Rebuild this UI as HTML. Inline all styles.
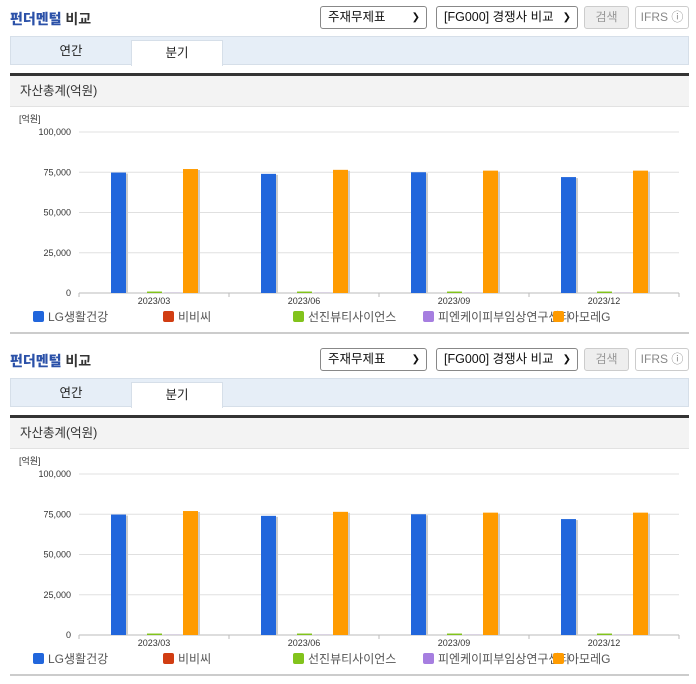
<!DOCTYPE html>
<html><head><meta charset="utf-8">
<style>
*{box-sizing:border-box;margin:0;padding:0}
body{width:696px;height:684px;background:#fff;font-family:"Liberation Sans","Noto Sans CJK KR",sans-serif;position:relative;overflow:hidden}
.blk{position:absolute;left:0;width:696px;height:342px}
.title{position:absolute;left:10px;top:9px;font-size:14px;font-weight:bold;color:#333}
.title b{color:#2b51a8}
.sel{position:absolute;top:6px;height:23px;border:1px solid #888;border-radius:3px;background:#fff;font-size:12.5px;line-height:21px;padding-left:7px;color:#111}
.sel i{position:absolute;right:6px;top:0;font-style:normal;font-size:10px}
.btn{position:absolute;top:6px;height:23px;border:1px solid #ccc;border-radius:3px;font-size:12px;line-height:21px;text-align:center;color:#999}
.tabs{position:absolute;left:10px;top:36px;width:679px;height:29px;background:#e6eef7;border:1px solid #d6dfe9}
.tab{position:absolute;top:0;height:28px;font-size:12.5px;line-height:28px;text-align:center;color:#222}
.tab.on{background:#fff;top:3px;height:26px;line-height:24px;border:1px solid #d6dfe9;border-bottom:none}
.bar3{position:absolute;left:10px;top:73px;width:679px;height:3px;background:#333}
.hd{position:absolute;left:10px;top:76px;width:679px;height:31px;background:#f3f3f3;border-bottom:1px solid #e2e2e2;font-size:12.5px;line-height:31px;padding-left:10px;color:#333}
.foot{position:absolute;left:10px;top:332px;width:679px;height:2px;background:#ccc}
svg{position:absolute;left:0;top:107px}
</style></head><body>
<script>
const categories=["2023/03","2023/06","2023/09","2023/12"];
const seriesNames=["LG생활건강","비비씨","선진뷰티사이언스","피엔케이피부임상연구센타","아모레G"];
const seriesColors=["#2166dc","#d13d12","#82c31c","#a67ee0","#ff9b00"];
const lgValues=[74800,74000,75000,72000];
const bbcValues=[0,0,0,0];
const sjValues=[900,900,900,900];
const pnkValues=[100,100,100,100];
const amoreValues=[77000,76500,76000,76000];
const yTicks=[0,25000,50000,75000,100000];
const yTickLabels=["0","25,000","50,000","75,000","100,000"];
const allSeries=[lgValues,bbcValues,sjValues,pnkValues,amoreValues];

const NS="http://www.w3.org/2000/svg";
function yS(v){return 186-v/100000*161;}
function xC(i){return 79+150*i+75;}
function mk(tag,attrs,parent){const e=document.createElementNS(NS,tag);for(const k in attrs)e.setAttribute(k,attrs[k]);parent.appendChild(e);return e;}

function buildBlock(top){
  const b=document.createElement('div');b.className='blk';b.style.top=top+'px';
  
  
  b.innerHTML=
  '<div class="title"><b>펀더멘털</b> 비교</div>'+
  '<div class="sel" style="left:320px;width:107px">주재무제표<i>&#10095;</i></div>'+
  '<div class="sel" style="left:436px;width:142px">[FG000] 경쟁사 비교<i>&#10095;</i></div>'+
  '<div class="btn" style="left:584px;width:45px;background:#eee">검색</div>'+
  '<div class="btn" style="left:635px;width:54px;color:#888">IFRS &#9432;</div>'+
  '<div class="tabs">'+
   '<div class="tab" style="left:0;width:120px">연간</div>'+
   '<div class="tab on" style="left:120px;width:92px">분기</div></div>'+
  '<div class="bar3"></div>'+
  '<div class="hd">자산총계(억원)</div>'+
  '<div class="foot"></div>';
  document.body.appendChild(b);
  const s=mk('svg',{width:696,height:225},b);
  
  
  const u=mk('text',{x:19,y:15,'font-size':9,fill:'#333'},s);u.textContent='[억원]';
  
  
  yTicks.forEach((t,i)=>{
    const y=yS(t);
    mk('line',{x1:79,x2:679,y1:y,y2:y,stroke:i==0?'#bbb':'#e0e0e0','stroke-width':1},s);
    const tx=mk('text',{x:71,y:y+3,'font-size':9,fill:'#333','text-anchor':'end'},s);tx.textContent=yTickLabels[i];
    
    
  });
  for(let i=0;i<=4;i++){mk('line',{x1:79+150*i,x2:79+150*i,y1:186,y2:190,stroke:'#bbb'},s);}
  categories.forEach((c,i)=>{
    const cx=xC(i);
    allSeries.forEach((ser,k)=>{
      const x=cx-43+18*k, y=yS(ser[i]), h=186-y;
      if(h<=0)return;
      mk('rect',{x:x+2,y:y+1,width:15,height:h-1,fill:'#ccc'},s);
      const r=mk('rect',{x:x,y:y,width:15,height:h,fill:seriesColors[k]},s);
      
      
    });
    const t=mk('text',{x:cx,y:197,'font-size':9,fill:'#333','text-anchor':'middle'},s);t.textContent=c;
    
    
  });
  seriesNames.forEach((n,k)=>{
    const x=33+130*k;
    const g=mk('g',{},s);
    
    
    mk('rect',{x:x,y:204,width:11,height:11,rx:2,fill:seriesColors[k]},g);
    const t=mk('text',{x:x+15,y:214,'font-size':12,fill:'#555'},g);t.textContent=n;
  });
}
buildBlock(0);buildBlock(342);
</script>
</body></html>
